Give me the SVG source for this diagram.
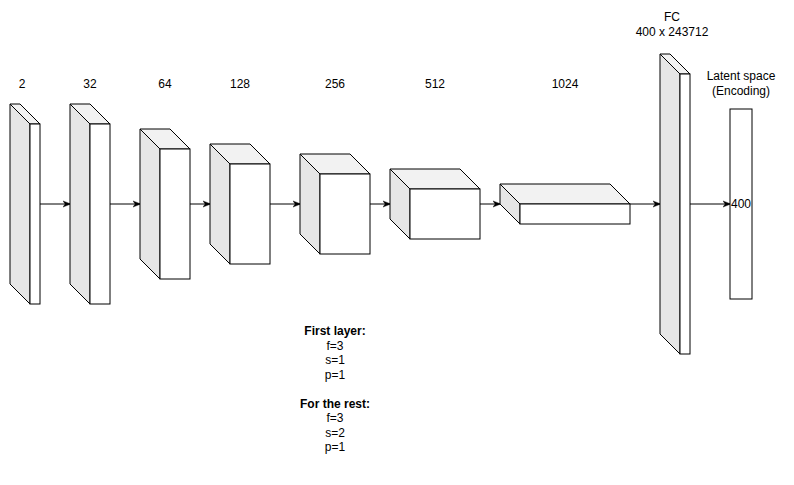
<svg xmlns="http://www.w3.org/2000/svg" width="794" height="485" viewBox="0 0 794 485">
<defs>
<style>
.side{fill:#e6e6e6;stroke:#000;stroke-width:1}
.top{fill:#f2f2f2;stroke:#000;stroke-width:1}
.front{fill:#fff;stroke:#000;stroke-width:1}
.lbl{font-family:"Liberation Sans",Arial,sans-serif;font-size:12px;fill:#000;text-anchor:middle}
.b{font-weight:bold}
.conn{stroke:#000;stroke-width:1;fill:none;marker-end:url(#arr)}
</style>
<marker id="arr" viewBox="0 0 10 10" refX="9" refY="5" markerWidth="8" markerHeight="8" markerUnits="userSpaceOnUse" orient="auto">
<path d="M0,1 L10,5 L0,9 L3,5 Z" fill="#000" stroke="#000" stroke-width="0.5"/>
</marker>
</defs>
<rect width="794" height="485" fill="#fff"/>

<g id="connectors">
<line class="conn" x1="40" y1="204" x2="70" y2="204"/>
<line class="conn" x1="110" y1="204" x2="140" y2="204"/>
<line class="conn" x1="190" y1="204" x2="210" y2="204"/>
<line class="conn" x1="270" y1="204" x2="300" y2="204"/>
<line class="conn" x1="370" y1="204" x2="390" y2="204"/>
<line class="conn" x1="480" y1="204" x2="500" y2="204"/>
<line class="conn" x1="630" y1="204" x2="660" y2="204"/>
<line class="conn" x1="690" y1="204" x2="730" y2="204"/>
</g>

<g id="layer2">
<polygon class="side" points="10,104 30,124 30,304 10,284"/>
<polygon class="top" points="10,104 20,104 40,124 30,124"/>
<rect class="front" x="30" y="124" width="10" height="180"/>
<text class="lbl" x="22" y="88">2</text>
</g>

<g id="layer32">
<polygon class="side" points="70,104 90,124 90,304 70,284"/>
<polygon class="top" points="70,104 90,104 110,124 90,124"/>
<rect class="front" x="90" y="124" width="20" height="180"/>
<text class="lbl" x="90" y="88">32</text>
</g>

<g id="layer64">
<polygon class="side" points="140,129 160,149 160,279 140,259"/>
<polygon class="top" points="140,129 170,129 190,149 160,149"/>
<rect class="front" x="160" y="149" width="30" height="130"/>
<text class="lbl" x="165" y="88">64</text>
</g>

<g id="layer128">
<polygon class="side" points="210,144 230,164 230,264 210,244"/>
<polygon class="top" points="210,144 250,144 270,164 230,164"/>
<rect class="front" x="230" y="164" width="40" height="100"/>
<text class="lbl" x="240" y="88">128</text>
</g>

<g id="layer256">
<polygon class="side" points="300,154 320,174 320,254 300,234"/>
<polygon class="top" points="300,154 350,154 370,174 320,174"/>
<rect class="front" x="320" y="174" width="50" height="80"/>
<text class="lbl" x="335" y="88">256</text>
</g>

<g id="layer512">
<polygon class="side" points="390,169 410,189 410,239 390,219"/>
<polygon class="top" points="390,169 460,169 480,189 410,189"/>
<rect class="front" x="410" y="189" width="70" height="50"/>
<text class="lbl" x="435" y="88">512</text>
</g>

<g id="layer1024">
<polygon class="side" points="500,184 520,204 520,224 500,204"/>
<polygon class="top" points="500,184 610,184 630,204 520,204"/>
<rect class="front" x="520" y="204" width="110" height="20"/>
<text class="lbl" x="565" y="88">1024</text>
</g>

<g id="fc">
<polygon class="side" points="660,54 680,74 680,354 660,334"/>
<polygon class="top" points="660,54 670,54 690,74 680,74"/>
<rect class="front" x="680" y="74" width="10" height="280"/>
<text class="lbl" x="672" y="21">FC</text>
<text class="lbl" x="672" y="36">400 x 243712</text>
</g>

<g id="latent">
<rect class="front" x="730" y="109" width="22" height="190"/>
<text class="lbl" x="741" y="80">Latent space</text>
<text class="lbl" x="741" y="95">(Encoding)</text>
<text class="lbl" x="741" y="208">400</text>
</g>

<g id="notes">
<text class="lbl b" x="335" y="335">First layer:</text>
<text class="lbl" x="335" y="350">f=3</text>
<text class="lbl" x="335" y="364">s=1</text>
<text class="lbl" x="335" y="379">p=1</text>
<text class="lbl b" x="335" y="408">For the rest:</text>
<text class="lbl" x="335" y="422">f=3</text>
<text class="lbl" x="335" y="437">s=2</text>
<text class="lbl" x="335" y="451">p=1</text>
</g>
</svg>
